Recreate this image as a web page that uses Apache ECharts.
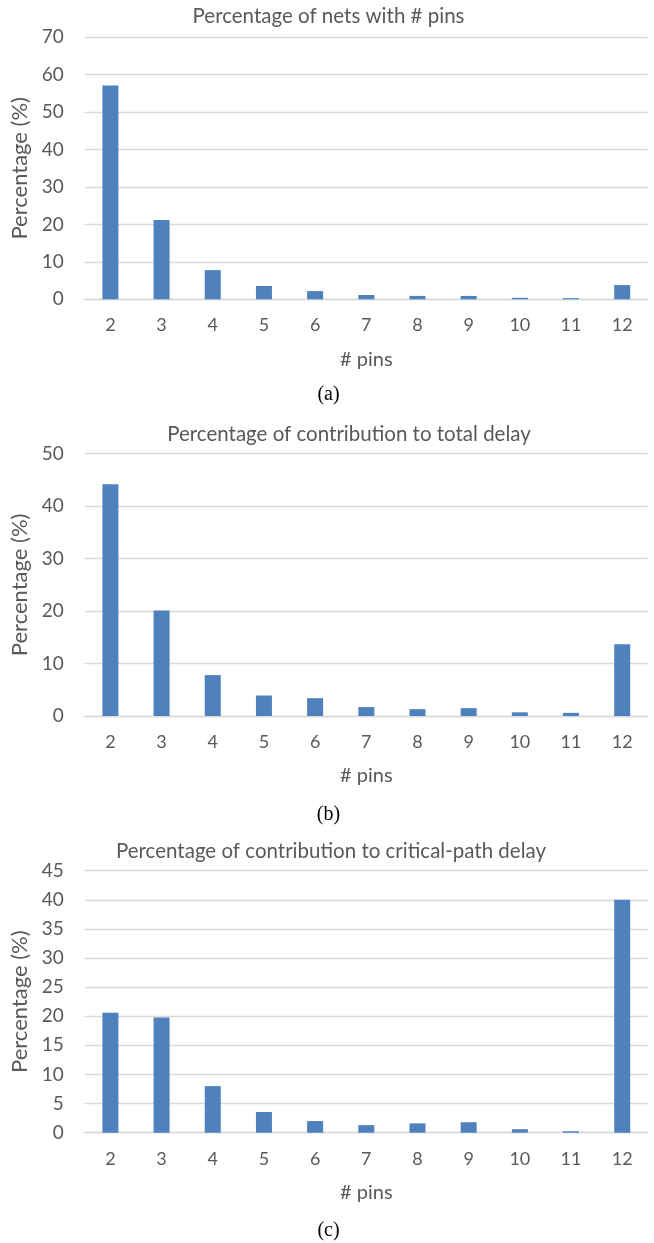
<!DOCTYPE html>
<html>
<head>
<meta charset="utf-8">
<script src="https://cdn.jsdelivr.net/npm/echarts@6/dist/echarts.min.js"></script>
<style>
  html, body { margin: 0; padding: 0; background: #fff; }
  #chart { width: 654px; height: 1243px; }
</style>
</head>
<body>
<div id="chart"></div>
<script>
// Number of pins per net (x categories)
const pins = ['2', '3', '4', '5', '6', '7', '8', '9', '10', '11', '12'];

// (a) share of nets having a given pin count
const netsShare = [57.1, 21.2, 7.8, 3.55, 2.2, 1.15, 0.9, 0.9, 0.4, 0.3, 3.8];
// (b) share of total delay contributed by nets of each pin count
const totalDelayShare = [44.2, 20.1, 7.8, 3.9, 3.4, 1.7, 1.3, 1.5, 0.7, 0.6, 13.7];
// (c) share of critical-path delay contributed by nets of each pin count
const criticalDelayShare = [20.6, 19.8, 8.0, 3.55, 2.0, 1.3, 1.6, 1.8, 0.6, 0.25, 40.0];

// Per-panel y-axis ranges
const yMax = [70, 50, 45];
const yStep = [10, 10, 5];

const titles = [
  'Percentage of nets with # pins',
  'Percentage of contribution to total delay',
  'Percentage of contribution to critical-path delay'
];
const captions = ['(a)', '(b)', '(c)'];

const SANS = 'Lato, "Open Sans", sans-serif';
const SERIF = '"Liberation Serif", "DejaVu Serif", serif';
const TEXT_COLOR = '#595959';
const GRID_COLOR = '#d9d9d9';
const BAR_COLOR = '#4f81bd';

// Panel layout
const panels = [
  { top: 37.3, height: 262, titleX: 328.5, titleY: 16.5, capY: 394.5 },
  { top: 453.7, height: 262.3, titleX: 349, titleY: 434, capY: 814.5 },
  { top: 870.7, height: 262, titleX: 331, titleY: 851.5, capY: 1231 }
];
const gridLeft = 84.8;
const gridWidth = 563;

const seriesData = [netsShare, totalDelayShare, criticalDelayShare];

const grid = [], xAxis = [], yAxis = [], series = [], graphic = [];

panels.forEach((p, i) => {
  grid.push({ left: gridLeft, top: p.top, width: gridWidth, height: p.height, containLabel: false });
  xAxis.push({
    type: 'category',
    gridIndex: i,
    data: pins,
    name: '# pins',
    nameLocation: 'middle',
    nameGap: 50,
    nameTextStyle: { fontFamily: SANS, fontSize: 20, color: TEXT_COLOR },
    axisLine: { show: true, lineStyle: { color: GRID_COLOR, width: 1.3 } },
    axisTick: { show: false },
    axisLabel: { fontFamily: SANS, fontSize: 18, color: TEXT_COLOR, margin: 17 }
  });
  yAxis.push({
    type: 'value',
    gridIndex: i,
    min: 0,
    max: yMax[i],
    interval: yStep[i],
    name: 'Percentage (%)',
    nameLocation: 'middle',
    nameGap: 47,
    nameTextStyle: { fontFamily: SANS, fontSize: 22, color: TEXT_COLOR },
    axisLine: { show: false },
    axisTick: { show: false },
    axisLabel: { fontFamily: SANS, fontSize: 19, color: TEXT_COLOR, margin: 21 },
    splitLine: { show: true, lineStyle: { color: GRID_COLOR, width: 1.3 } }
  });
  series.push({
    type: 'bar',
    xAxisIndex: i,
    yAxisIndex: i,
    data: seriesData[i],
    barWidth: 16,
    itemStyle: { color: BAR_COLOR },
    animation: false
  });
  graphic.push({
    type: 'text',
    x: p.titleX,
    y: p.titleY,
    style: {
      text: titles[i],
      font: '20.5px ' + SANS,
      fill: TEXT_COLOR,
      textAlign: 'center',
      textVerticalAlign: 'middle'
    }
  });
  graphic.push({
    type: 'text',
    x: 328.5,
    y: p.capY,
    style: {
      text: captions[i],
      font: '20px ' + SERIF,
      fill: '#000',
      textAlign: 'center',
      textVerticalAlign: 'middle'
    }
  });
});

const chart = echarts.init(document.getElementById('chart'), null, { renderer: 'canvas' });
chart.setOption({
  animation: false,
  backgroundColor: '#ffffff',
  grid, xAxis, yAxis, series, graphic
});
</script>
</body>
</html>
